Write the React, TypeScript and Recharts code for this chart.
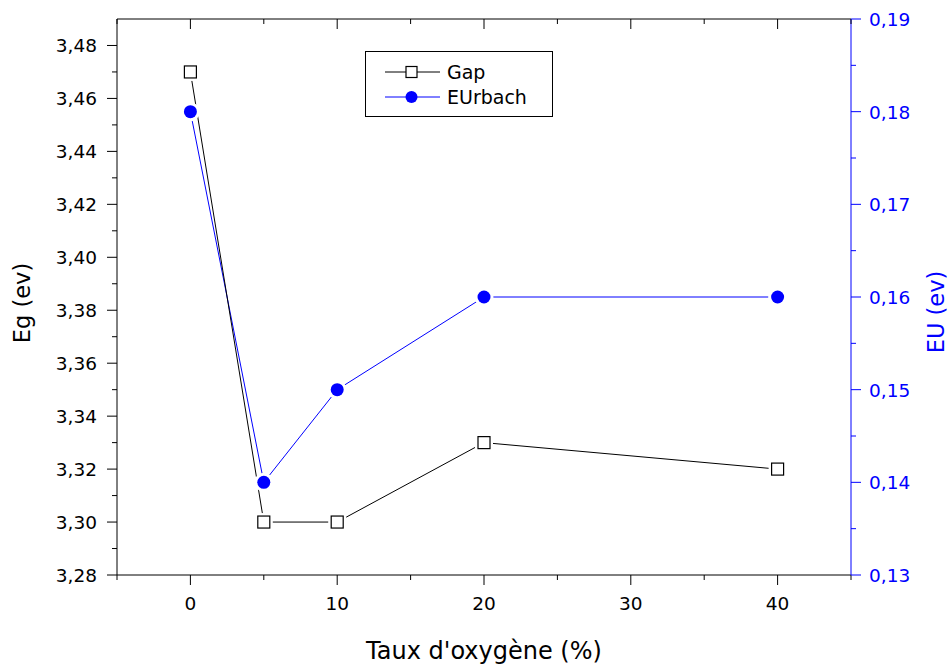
import { LineChart, Line, XAxis, YAxis } from 'recharts';

const oxygenRates = [0, 5, 10, 20, 40];
const gapValues = [3.47, 3.3, 3.3, 3.33, 3.32];
const urbachValues = [0.18, 0.14, 0.15, 0.16, 0.16];

const xTicks = [-5, 0, 5, 10, 15, 20, 25, 30, 35, 40, 45];
const xMajor = [0, 10, 20, 30, 40];
const gapTicks = [
  3.28, 3.29, 3.3, 3.31, 3.32, 3.33, 3.34, 3.35, 3.36, 3.37, 3.38,
  3.39, 3.4, 3.41, 3.42, 3.43, 3.44, 3.45, 3.46, 3.47, 3.48,
];
const gapMajor = [3.28, 3.3, 3.32, 3.34, 3.36, 3.38, 3.4, 3.42, 3.44, 3.46, 3.48];
const urbachTicks = [
  0.13, 0.135, 0.14, 0.145, 0.15, 0.155, 0.16, 0.165, 0.17, 0.175, 0.18, 0.185, 0.19,
];
const urbachMajor = [0.13, 0.14, 0.15, 0.16, 0.17, 0.18, 0.19];
const legendItems = ['Gap', 'EUrbach'];

const data = oxygenRates.map((rate, i) => ({
  oxygen: rate,
  gap: gapValues[i],
  urbach: urbachValues[i],
}));

const FONT = 'DejaVu Sans';
const BLUE = '#0000ff';
const PLOT_TOP = 19; // chart top margin = top edge of the frame

const isMajor = (v: number, list: number[]) => list.some((m) => Math.abs(m - v) < 1e-9);
const fmt = (v: number) => v.toFixed(2).replace('.', ',');

// bottom tick + matching inward tick on the top frame
const BottomTick = ({ x, y, payload }: any) => {
  const len = isMajor(payload.value, xMajor) ? 10 : 5;
  return (
    <g>
      <line x1={x} x2={x} y1={y} y2={y + len} stroke="#000" />
      <line x1={x} x2={x} y1={PLOT_TOP} y2={PLOT_TOP + len} stroke="#000" />
      {len === 10 && (
        <text x={x} y={y + 35} textAnchor="middle" fontFamily={FONT} fontSize={18.5} fill="#000">
          {payload.value}
        </text>
      )}
    </g>
  );
};

const LeftTick = ({ x, y, payload }: any) => {
  const major = isMajor(payload.value, gapMajor);
  return (
    <g>
      <line x1={x - (major ? 10 : 5)} x2={x} y1={y} y2={y} stroke="#000" />
      {major && (
        <text x={x - 20} y={y + 7} textAnchor="end" fontFamily={FONT} fontSize={18.5} fill="#000">
          {fmt(payload.value)}
        </text>
      )}
    </g>
  );
};

const RightTick = ({ x, y, payload }: any) => {
  const major = isMajor(payload.value, urbachMajor);
  return (
    <g>
      <line x1={x} x2={x + (major ? 10 : 5)} y1={y} y2={y} stroke={BLUE} />
      {major && (
        <text x={x + 18} y={y + 7} textAnchor="start" fontFamily={FONT} fontSize={18.5} fill={BLUE}>
          {fmt(payload.value)}
        </text>
      )}
    </g>
  );
};

const SquareDot = ({ cx, cy }: any) => (
  <g>
    <rect x={cx - 6} y={cy - 6} width={12} height={12} fill="#fff" stroke="#fff" strokeWidth={6} />
    <rect x={cx - 6} y={cy - 6} width={12} height={12} fill="#fff" stroke="#000" strokeWidth={1.2} />
  </g>
);

const CircleDot = ({ cx, cy }: any) => (
  <g>
    <circle cx={cx} cy={cy} r={6.5} fill="#fff" stroke="#fff" strokeWidth={6} />
    <circle cx={cx} cy={cy} r={6.5} fill={BLUE} />
  </g>
);

const LegendBox = () => (
  <svg
    width={188}
    height={66}
    style={{ position: 'absolute', left: 365, top: 51, display: 'block', pointerEvents: 'none' }}
  >
    <rect x={0.5} y={0.5} width={187} height={65} fill="#fff" stroke="#000" />
    <line x1={20} x2={75} y1={21} y2={21} stroke="#000" />
    <rect x={41} y={15.5} width={11} height={11} fill="#fff" stroke="#000" strokeWidth={1.2} />
    <text x={82} y={28} fontFamily={FONT} fontSize={19} fill="#000">{legendItems[0]}</text>
    <line x1={20} x2={75} y1={46} y2={46} stroke={BLUE} />
    <circle cx={46.5} cy={46} r={6} fill={BLUE} />
    <text x={82} y={53} fontFamily={FONT} fontSize={19} fill="#000">{legendItems[1]}</text>
  </svg>
);

export default function App() {
  return (
    <div style={{ position: 'absolute', left: 0, top: 0, width: 951, height: 666, background: '#fff' }}>
      <LineChart
        width={951}
        height={666}
        data={data}
        margin={{ top: PLOT_TOP, right: 0, bottom: 0, left: 0 }}
      >
        <XAxis
          xAxisId="bottom"
          dataKey="oxygen"
          type="number"
          domain={[-5, 45]}
          ticks={xTicks}
          interval={0}
          height={91}
          tickSize={0}
          tickMargin={0}
          tickLine={false}
          axisLine={{ stroke: '#000' }}
          tick={BottomTick}
          label={(p: any) => (
            <g>
              {/* top edge of the frame */}
              <line
                x1={p.viewBox.x}
                x2={p.viewBox.x + p.viewBox.width}
                y1={PLOT_TOP}
                y2={PLOT_TOP}
                stroke="#000"
              />
              <text
                x={p.viewBox.x + p.viewBox.width / 2}
                y={p.viewBox.y + 84}
                textAnchor="middle"
                fontFamily={FONT}
                fontSize={24}
                fill="#000"
              >
                Taux d'oxygène (%)
              </text>
            </g>
          )}
        />
        <YAxis
          yAxisId="left"
          type="number"
          domain={[3.28, 3.49]}
          ticks={gapTicks}
          interval={0}
          width={117}
          tickSize={0}
          tickMargin={0}
          tickLine={false}
          axisLine={{ stroke: '#000' }}
          tick={LeftTick}
          label={(p: any) => {
            const x = p.viewBox.x + 30;
            const y = p.viewBox.y + p.viewBox.height / 2 + 6;
            return (
              <text
                x={x}
                y={y}
                transform={`rotate(-90 ${x} ${y})`}
                textAnchor="middle"
                fontFamily={FONT}
                fontSize={22.5}
                fill="#000"
              >
                Eg (ev)
              </text>
            );
          }}
        />
        <YAxis
          yAxisId="right"
          orientation="right"
          type="number"
          domain={[0.13, 0.19]}
          ticks={urbachTicks}
          interval={0}
          width={100}
          tickSize={0}
          tickMargin={0}
          tickLine={false}
          axisLine={{ stroke: BLUE }}
          tick={RightTick}
          label={(p: any) => {
            const x = p.viewBox.x + 93;
            const y = p.viewBox.y + p.viewBox.height / 2 + 15;
            return (
              <text
                x={x}
                y={y}
                transform={`rotate(-90 ${x} ${y})`}
                textAnchor="middle"
                fontFamily={FONT}
                fontSize={22.5}
                fill={BLUE}
              >
                EU (ev)
              </text>
            );
          }}
        />
        <Line
          xAxisId="bottom"
          yAxisId="right"
          type="linear"
          dataKey="urbach"
          name="EUrbach"
          stroke={BLUE}
          strokeWidth={1}
          dot={(p: any) => <CircleDot key={`u-${p.index}`} cx={p.cx} cy={p.cy} />}
          activeDot={false}
          isAnimationActive={false}
        />
        <Line
          xAxisId="bottom"
          yAxisId="left"
          type="linear"
          dataKey="gap"
          name="Gap"
          stroke="#000"
          strokeWidth={1}
          dot={(p: any) => <SquareDot key={`g-${p.index}`} cx={p.cx} cy={p.cy} />}
          activeDot={false}
          isAnimationActive={false}
        />
      </LineChart>
      <LegendBox />
    </div>
  );
}
